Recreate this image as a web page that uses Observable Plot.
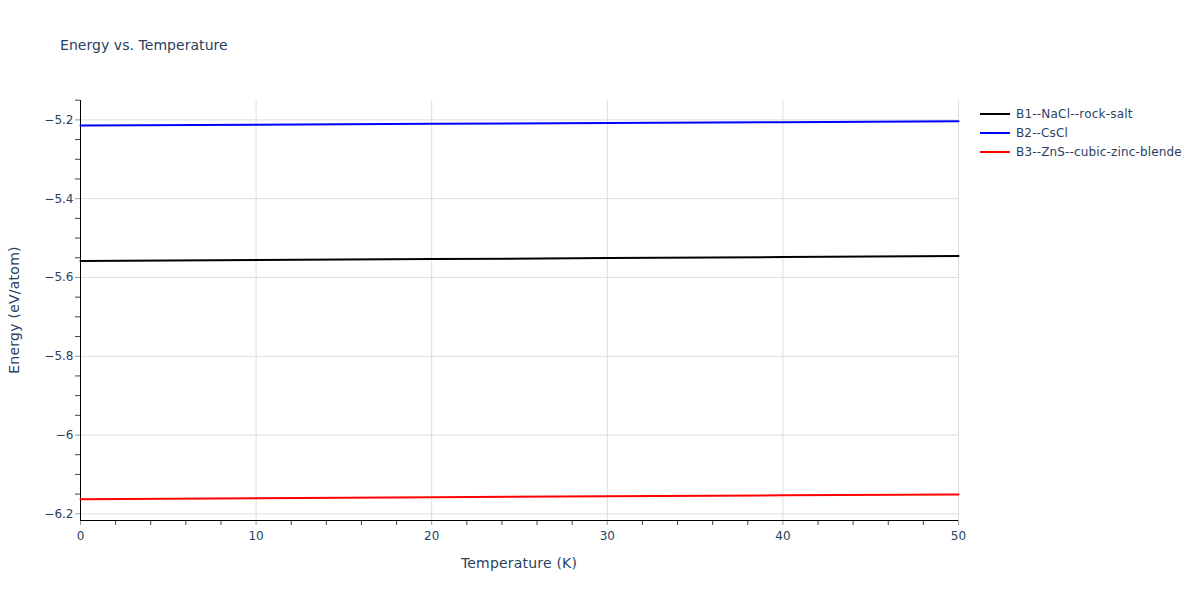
<!DOCTYPE html>
<html>
<head>
<meta charset="utf-8">
<script src="https://cdn.jsdelivr.net/npm/d3@7"></script>
<script src="https://cdn.jsdelivr.net/npm/@observablehq/plot@0.6"></script>
<style>
  body { margin: 0; background: #fff; font-family: "DejaVu Sans", sans-serif; }
  #wrap { position: relative; width: 1200px; height: 600px; }
  .t { position: absolute; color: #2a3f5f; white-space: nowrap; line-height: 1; }
  #title { left: 60px; top: 45px; font-size: 14px; transform: translate(0, -50%); }
  #xlab { left: 519px; top: 563px; font-size: 14px; transform: translate(-50%, -50%); }
  #ylab { left: 14px; top: 310px; font-size: 14px; transform: translate(-50%, -50%) rotate(-90deg); }
  .leg { position: absolute; left: 980px; font-size: 12px; color: #2a3f5f; display: flex; align-items: center; white-space: nowrap; }
  .leg span.sw { display: inline-block; width: 30px; height: 2px; margin-right: 6px; }
</style>
</head>
<body>
<div id="wrap">
  <div id="chart"></div>
  <div id="title" class="t">Energy vs. Temperature</div>
  <div id="xlab" class="t">Temperature (K)</div>
  <div id="ylab" class="t">Energy (eV/atom)</div>
  <div id="legend"></div>
</div>
<script>
const temperatures = [0, 10, 20, 30, 40, 50];
const seriesNames = ["B1--NaCl--rock-salt", "B2--CsCl", "B3--ZnS--cubic-zinc-blende"];
const seriesColors = ["#000000", "#0000ff", "#ff0000"];
const energyB1 = [-5.5585, -5.5560, -5.5534, -5.5508, -5.5483, -5.5457];
const energyB2 = [-5.2145, -5.2123, -5.2101, -5.2080, -5.2058, -5.2036];
const energyB3 = [-6.1628, -6.1604, -6.1580, -6.1556, -6.1532, -6.1508];
const xMajorTicks = [0, 10, 20, 30, 40, 50];
const xMinorTicks = [2, 4, 6, 8, 12, 14, 16, 18, 22, 24, 26, 28, 32, 34, 36, 38, 42, 44, 46, 48];
const yMajorTicks = [-6.2, -6, -5.8, -5.6, -5.4, -5.2];
const yMinorTicks = [-6.15, -6.1, -6.05, -5.95, -5.9, -5.85, -5.75, -5.7, -5.65, -5.55, -5.5, -5.45, -5.35, -5.3, -5.25, -5.15];
const xDomain = [0, 50];
const yDomain = [-6.217, -5.1508];

const allSeries = [energyB1, energyB2, energyB3];
const rows = [];
allSeries.forEach((vals, si) => {
  vals.forEach((v, i) => rows.push({series: seriesNames[si], T: temperatures[i], E: v}));
});

const plot = Plot.plot({
  width: 1200,
  height: 600,
  marginLeft: 80,
  marginRight: 242,
  marginTop: 100,
  marginBottom: 80,
  style: {fontFamily: '"DejaVu Sans", sans-serif', fontSize: "12px", color: "#2a3f5f", background: "#fff"},
  x: {domain: xDomain, axis: null},
  y: {domain: yDomain, axis: null},
  color: {domain: seriesNames, range: seriesColors},
  marks: [
    Plot.gridX(xMajorTicks, {stroke: "#dddddd", strokeOpacity: 1}),
    Plot.gridY(yMajorTicks, {stroke: "#dddddd", strokeOpacity: 1}),
    Plot.axisX(xMajorTicks, {tickSize: 5, tickPadding: 6, stroke: "#999999", fill: "#2a3f5f", label: null, tickFormat: d3.format("~g")}),
    Plot.axisX(xMinorTicks, {tickSize: 5, stroke: "#444444", text: null, label: null}),
    Plot.axisY(yMajorTicks, {tickSize: 5, tickPadding: 2, stroke: "#999999", fill: "#2a3f5f", label: null, tickFormat: d => d3.format("~g")(d).replace("-", "\u2212")}),
    Plot.axisY(yMinorTicks, {tickSize: 5, stroke: "#444444", text: null, label: null}),
    Plot.ruleX([xDomain[0]], {stroke: "#000"}),
    Plot.ruleY([yDomain[0]], {stroke: "#000"}),
    Plot.line(rows, {x: "T", y: "E", z: "series", stroke: "series", strokeWidth: 2})
  ]
});
document.getElementById("chart").appendChild(plot);

const legendWidths = [117, 52, 166];
const legend = document.getElementById("legend");
const legendTexts = [];
seriesNames.forEach((name, i) => {
  const item = document.createElement("div");
  item.className = "leg";
  item.style.top = (114 + i * 19 - 9) + "px";
  item.style.height = "18px";
  const sw = document.createElement("span");
  sw.className = "sw";
  sw.style.background = seriesColors[i];
  item.appendChild(sw);
  const tx = document.createElement("span");
  tx.textContent = name;
  item.appendChild(tx);
  legend.appendChild(item);
  legendTexts.push(tx);
});

// match the wider letter spacing of the reference's font
function fitWidth(el, target) {
  el.style.letterSpacing = "0px";
  const w = el.offsetWidth;
  const n = el.textContent.length;
  const ls = Math.max(0, (target - w) / n);
  el.style.letterSpacing = ls.toFixed(2) + "px";
}
fitWidth(document.getElementById("title"), 168);
fitWidth(document.getElementById("xlab"), 116);
fitWidth(document.getElementById("ylab"), 128);
legendTexts.forEach((el, i) => fitWidth(el, legendWidths[i]));
</script>
</body>
</html>
